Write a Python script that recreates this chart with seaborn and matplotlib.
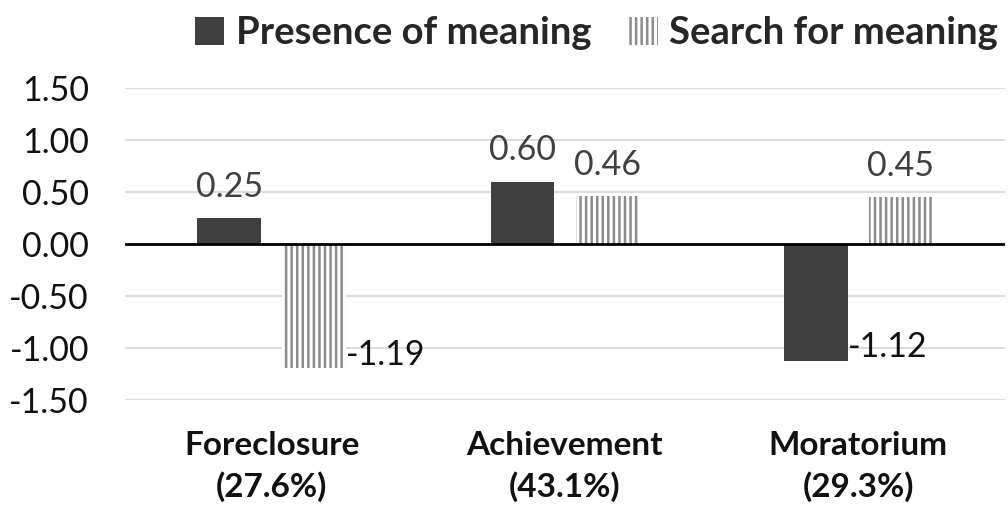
import numpy as np
import pandas as pd
import matplotlib.pyplot as plt
import seaborn as sns
from matplotlib.patches import Patch

# data
categories = ['Foreclosure\n(27.6%)', 'Achievement\n(43.1%)', 'Moratorium\n(29.3%)']
series = ['Presence of meaning', 'Search for meaning']
presence = [0.25, 0.60, -1.12]
search = [-1.19, 0.46, 0.45]
yticks = [-1.5, -1.0, -0.5, 0.0, 0.5, 1.0, 1.5]

sns.set_style("white")
plt.rcParams['font.family'] = ['Lato', 'DejaVu Sans']
plt.rcParams['hatch.linewidth'] = 1.8

df = pd.DataFrame({
    'cat': categories * 2,
    'series': [series[0]] * 3 + [series[1]] * 3,
    'val': presence + search,
})

fig, ax = plt.subplots(figsize=(10.08, 5.11), dpi=100)
fig.subplots_adjust(left=0.124, right=0.997, top=0.828, bottom=0.217)

for y in yticks:
    ax.axhline(y, color='#d9d9d9', lw=1.3, zorder=0)

sns.barplot(data=df, x='cat', y='val', hue='series', order=categories,
            hue_order=series, palette=['#404040', 'white'], width=0.58, gap=0.25,
            errorbar=None, legend=False, ax=ax, zorder=2)

bars = ax.patches
for p in bars[:3]:
    p.set_linewidth(0)
for p in bars[3:6]:
    p.set_facecolor('white')
    p.set_edgecolor('#8c8c8c')
    p.set_linewidth(0)
    p.set_hatch('|||')

ax.axhline(0, color='black', lw=2, zorder=3)

# data labels
for p in bars[:6]:
    v = p.get_height()
    x0 = p.get_x()
    w = p.get_width()
    if v >= 0:
        ax.annotate(f'{v:.2f}', (x0 + w / 2, v), xytext=(0, 11), textcoords='offset points',
                    ha='center', va='bottom', fontsize=24.5, color='#404040')
    else:
        ax.annotate(f'{v:.2f}', (x0 + w, v), xytext=(0, -2), textcoords='offset points',
                    ha='left', va='bottom', fontsize=24.5, color='#111111')

ax.set_ylim(-1.5, 1.5)
ax.set_xlim(-0.5, 2.5)
ax.set_yticks(yticks)
ax.set_yticklabels([f'{t:.2f}' for t in yticks], fontsize=24.5, color='#111111')
ax.set_xticks(range(3))
ax.set_xticklabels(categories, fontsize=24, fontweight='bold', color='#111111', linespacing=1.45)
ax.tick_params(axis='x', pad=22, length=0)
ax.tick_params(axis='y', pad=26, length=0)
ax.set_xlabel('')
ax.set_ylabel('')
sns.despine(left=True, bottom=True)

handles = [Patch(facecolor='#404040', edgecolor='#404040', lw=0),
           Patch(facecolor='white', edgecolor='#8c8c8c', lw=0, hatch='|||')]
fig.legend(handles, series, loc='upper center', bbox_to_anchor=(0.592, 1.035), ncol=2,
           frameon=False, prop={'size': 27.5, 'weight': 'bold'}, handlelength=0.75,
           handleheight=0.75, handletextpad=0.3, columnspacing=1.0)

plt.savefig('out.png', dpi=100)
